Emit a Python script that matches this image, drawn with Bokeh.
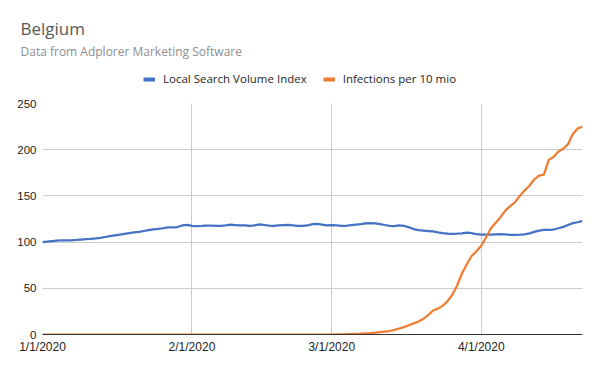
import pandas as pd
from bokeh.plotting import figure
from bokeh.layouts import column
from bokeh.models import (Range1d, FixedTicker, DatetimeTickFormatter, Label,
                          Legend, LegendItem, ColumnDataSource)
from bokeh.embed import file_html
from bokeh.resources import INLINE

# ---------------- data ----------------
title_text = "Belgium"
subtitle_text = "Data from Adplorer Marketing Software"
series_names = ["Local Search Volume Index", "Infections per 10 mio"]
start_date = "2020-01-01"
end_date = "2020-04-22"
tick_dates = ["2020-01-01", "2020-02-01", "2020-03-01", "2020-04-01"]
y_ticks = [0, 50, 100, 150, 200, 250]

dates = pd.date_range(start_date, end_date, freq="D")

search_index = [
    100, 100.5, 101, 101.5, 102, 102, 102, 102.3, 102.8, 103.3,
    103.6, 104, 104.5, 105.5, 106.5, 107.3, 108, 109, 109.8, 110.5,
    111, 112, 113, 113.8, 114.3, 115, 116, 116, 116.3, 118,
    118.7, 117.5, 117.3, 117.5, 117.8, 117.7, 117.5, 117.6, 118, 118.8,
    118.5, 118.2, 118, 117.5, 118, 119.2, 118.5, 117.8, 117.5, 118,
    118.5, 118.7, 118, 117.5, 117.6, 118, 119.5, 119.8, 119, 118,
    118.5, 118, 117.5, 117.6, 118.5, 119, 119.5, 120.3, 120.5, 120.2,
    119.5, 118.5, 117.5, 117.2, 118, 117.5, 116, 114, 113, 112.5,
    112, 111.5, 110.5, 109.8, 109.2, 109, 109.2, 109.5, 110.2, 109.8,
    108.5, 108.2, 108, 108, 108.3, 108.5, 108.3, 107.8, 107.8, 108,
    108.3, 109.5, 111, 112.5, 113.3, 113.3, 113.6, 115, 116.5, 118.5,
    120.5, 121.5, 123,
]

infections = [
    0, 0, 0, 0, 0, 0, 0, 0, 0, 0,
    0, 0, 0, 0, 0, 0, 0, 0, 0, 0,
    0, 0, 0, 0, 0, 0, 0, 0, 0, 0,
    0, 0, 0, 0, 0, 0, 0, 0, 0, 0,
    0, 0, 0, 0, 0, 0, 0, 0, 0, 0,
    0, 0, 0, 0, 0, 0, 0, 0, 0, 0,
    0, 0.1, 0.2, 0.3, 0.5, 0.8, 1.0, 1.3, 1.6, 2.0,
    2.5, 3.0, 3.8, 5.0, 6.5, 8.0, 10, 12, 14, 17,
    21, 26, 28, 31, 36, 43, 53, 66, 76, 85,
    90, 96, 105, 115, 121, 127, 134, 139, 143, 150,
    156, 161, 168, 172, 173, 189, 192, 198, 201, 206,
    217, 223, 225,
]

colors = ["#4472C4", "#ED7D31"]

W = 600
HEAD_H = 95

# ---------------- header (title, subtitle, legend) ----------------
head = figure(width=W, height=HEAD_H, output_backend="svg", toolbar_location=None,
              title=None,
              x_range=Range1d(0, W), y_range=Range1d(0, HEAD_H),
              x_axis_location=None, y_axis_location=None,
              min_border=0, min_border_left=0, min_border_right=0,
              min_border_top=0, min_border_bottom=0)
head.frame_align = False
head.grid.visible = False
head.outline_line_color = None
head.border_fill_color = "white"

# positions in screen pixels: x from frame left, y up from frame bottom
head.add_layout(Label(x=20, y=67, x_units="screen", y_units="screen",
                      text=title_text,
                      text_font="Open Sans", text_font_size="17px",
                      text_color="#595959", text_baseline="alphabetic"))
head.add_layout(Label(x=20, y=44, x_units="screen", y_units="screen",
                      text=subtitle_text,
                      text_font="Open Sans", text_font_size="12px",
                      text_color="#8e8e8e", text_baseline="alphabetic"))

proxy = ColumnDataSource(dict(x=[float("nan")], y=[float("nan")]))
l1 = head.line("x", "y", source=proxy, line_color=colors[0], line_width=4)
l2 = head.line("x", "y", source=proxy, line_color=colors[1], line_width=4)
legend = Legend(items=[LegendItem(label=series_names[0], renderers=[l1]),
                       LegendItem(label=series_names[1], renderers=[l2])],
                orientation="horizontal", location=(143, 9),
                padding=0, margin=0, spacing=16, label_standoff=8,
                glyph_width=12, glyph_height=14,
                label_text_font="Open Sans", label_text_font_size="11.5px",
                label_text_color="#262626", label_height=14,
                border_line_color=None, background_fill_alpha=0)
head.add_layout(legend, "center")

# ---------------- main chart ----------------
p = figure(width=W, height=371 - HEAD_H, output_backend="svg", toolbar_location=None,
           x_axis_type="datetime",
           x_range=Range1d(pd.Timestamp(start_date), pd.Timestamp(end_date)),
           y_range=Range1d(0, 250),
           min_border_left=42, min_border_right=18,
           min_border_top=8, min_border_bottom=37)
p.frame_align = False
p.outline_line_color = None
p.border_fill_color = "white"

src = ColumnDataSource(dict(x=dates, s=search_index, inf=infections))
p.line("x", "s", source=src, line_color=colors[0], line_width=2.25)
p.line("x", "inf", source=src, line_color=colors[1], line_width=2.25)

tick_ms = [pd.Timestamp(d).value / 1e6 for d in tick_dates]
fmt = "%-m/%-d/%Y"
p.xaxis.ticker = FixedTicker(ticks=tick_ms)
p.xaxis.formatter = DatetimeTickFormatter(
    milliseconds=fmt, seconds=fmt, minsec=fmt, minutes=fmt, hourmin=fmt,
    hours=fmt, days=fmt, months=fmt, years=fmt)
p.xgrid.ticker = FixedTicker(ticks=tick_ms)
p.yaxis.ticker = FixedTicker(ticks=y_ticks)
p.ygrid.ticker = FixedTicker(ticks=y_ticks)

p.grid.grid_line_color = "#cccccc"
p.grid.grid_line_width = 1

p.xaxis.axis_line_color = "#333333"
p.yaxis.axis_line_color = None
p.axis.major_tick_line_color = None
p.axis.minor_tick_line_color = None
p.axis.major_tick_out = 0
p.axis.major_tick_in = 0
p.xaxis.major_label_standoff = 5
p.yaxis.major_label_standoff = 6
p.axis.major_label_text_font = "Liberation Sans"
p.xaxis.major_label_text_font_size = "12px"
p.yaxis.major_label_text_font_size = "11.5px"
p.axis.major_label_text_color = "#222222"

layout = column(head, p, spacing=0)
open("out.html", "w").write(file_html(layout, INLINE))
